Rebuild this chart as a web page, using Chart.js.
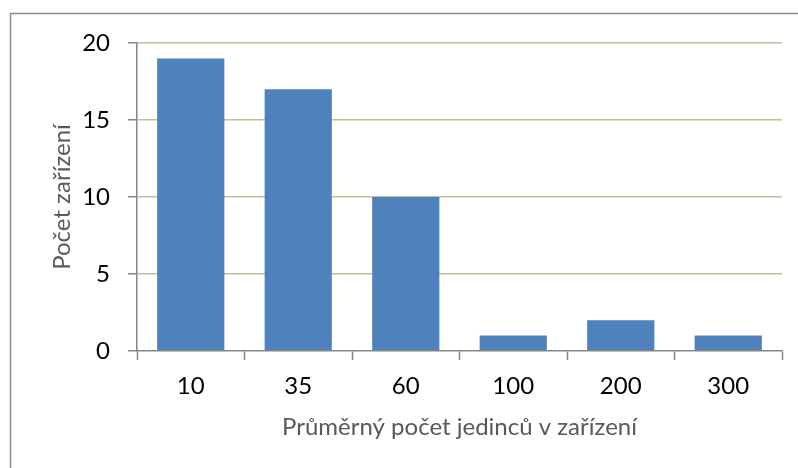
<!DOCTYPE html>
<html>
<head>
<meta charset="utf-8">
<script src="https://cdn.jsdelivr.net/npm/chart.js@4.4.1/dist/chart.umd.min.js"></script>
<style>
  html, body { margin: 0; padding: 0; background: #ffffff; }
  #wrap { width: 798px; height: 468px; position: relative; }
</style>
</head>
<body>
<div id="wrap"><canvas id="c" width="798" height="468"></canvas></div>
<script>
const categories = ["10", "35", "60", "100", "200", "300"];
const counts = [19, 17, 10, 1, 2, 1];
const yTicks = [0, 5, 10, 15, 20];
const xTitle = "Průměrný počet jedinců v zařízení";
const yTitle = "Počet zařízení";

const FONT = "Lato, 'Open Sans', sans-serif";
const GRID = "#C4BD97";
const AXIS = "#868686";

const frame = {
  id: "frame",
  afterDraw(chart) {
    const ctx = chart.ctx;
    ctx.save();
    ctx.strokeStyle = "#8c8c8c";
    ctx.lineWidth = 1.5;
    ctx.beginPath();
    ctx.moveTo(10.5, 468);
    ctx.lineTo(10.5, 13.5);
    ctx.lineTo(798, 13.5);
    ctx.stroke();
    ctx.restore();
  }
};

function draw() {
  new Chart(document.getElementById("c"), {
    type: "bar",
    data: {
      labels: categories,
      datasets: [{
        data: counts,
        backgroundColor: "#4F81BD",
        borderWidth: 0,
        categoryPercentage: 1.0,
        barPercentage: 0.625
      }]
    },
    options: {
      responsive: false,
      animation: false,
      layout: { padding: { left: 0, right: 16, top: 43, bottom: 0 } },
      plugins: { legend: { display: false }, tooltip: { enabled: false } },
      scales: {
        x: {
          grid: {
            display: true,
            drawOnChartArea: false,
            drawTicks: true,
            tickLength: 9,
            tickColor: AXIS,
            tickWidth: 1.5,
            offset: true
          },
          border: { display: true, color: AXIS, width: 1.5, z: 1 },
          ticks: { color: "#000000", font: { family: FONT, size: 24 }, padding: 12, maxRotation: 0 },
          title: {
            display: true,
            text: xTitle,
            color: "#595959",
            font: { family: FONT, size: 24 },
            padding: { top: 0, bottom: 26 }
          },
          afterFit(scale) { scale.height = 117; }
        },
        y: {
          min: 0,
          max: 20,
          afterBuildTicks(scale) { scale.ticks = yTicks.map(v => ({ value: v })); },
          grid: {
            color: (c) => (c.tick && c.tick.value === 0) ? "rgba(0,0,0,0)" : GRID,
            lineWidth: 1.5,
            drawTicks: true,
            tickLength: 9,
            tickColor: AXIS,
            tickWidth: 1.5
          },
          border: { display: true, color: AXIS, width: 1.5, z: 1 },
          ticks: { color: "#000000", font: { family: FONT, size: 24 }, padding: 18 },
          title: {
            display: true,
            text: yTitle,
            color: "#595959",
            font: { family: FONT, size: 24 },
            padding: { top: 48, bottom: 0 }
          },
          afterFit(scale) { scale.width = 137; }
        }
      }
    },
    plugins: [frame]
  });
}

if (document.fonts && document.fonts.load) {
  Promise.all([document.fonts.load("24px Lato")]).then(draw, draw);
} else {
  draw();
}
</script>
</body>
</html>
